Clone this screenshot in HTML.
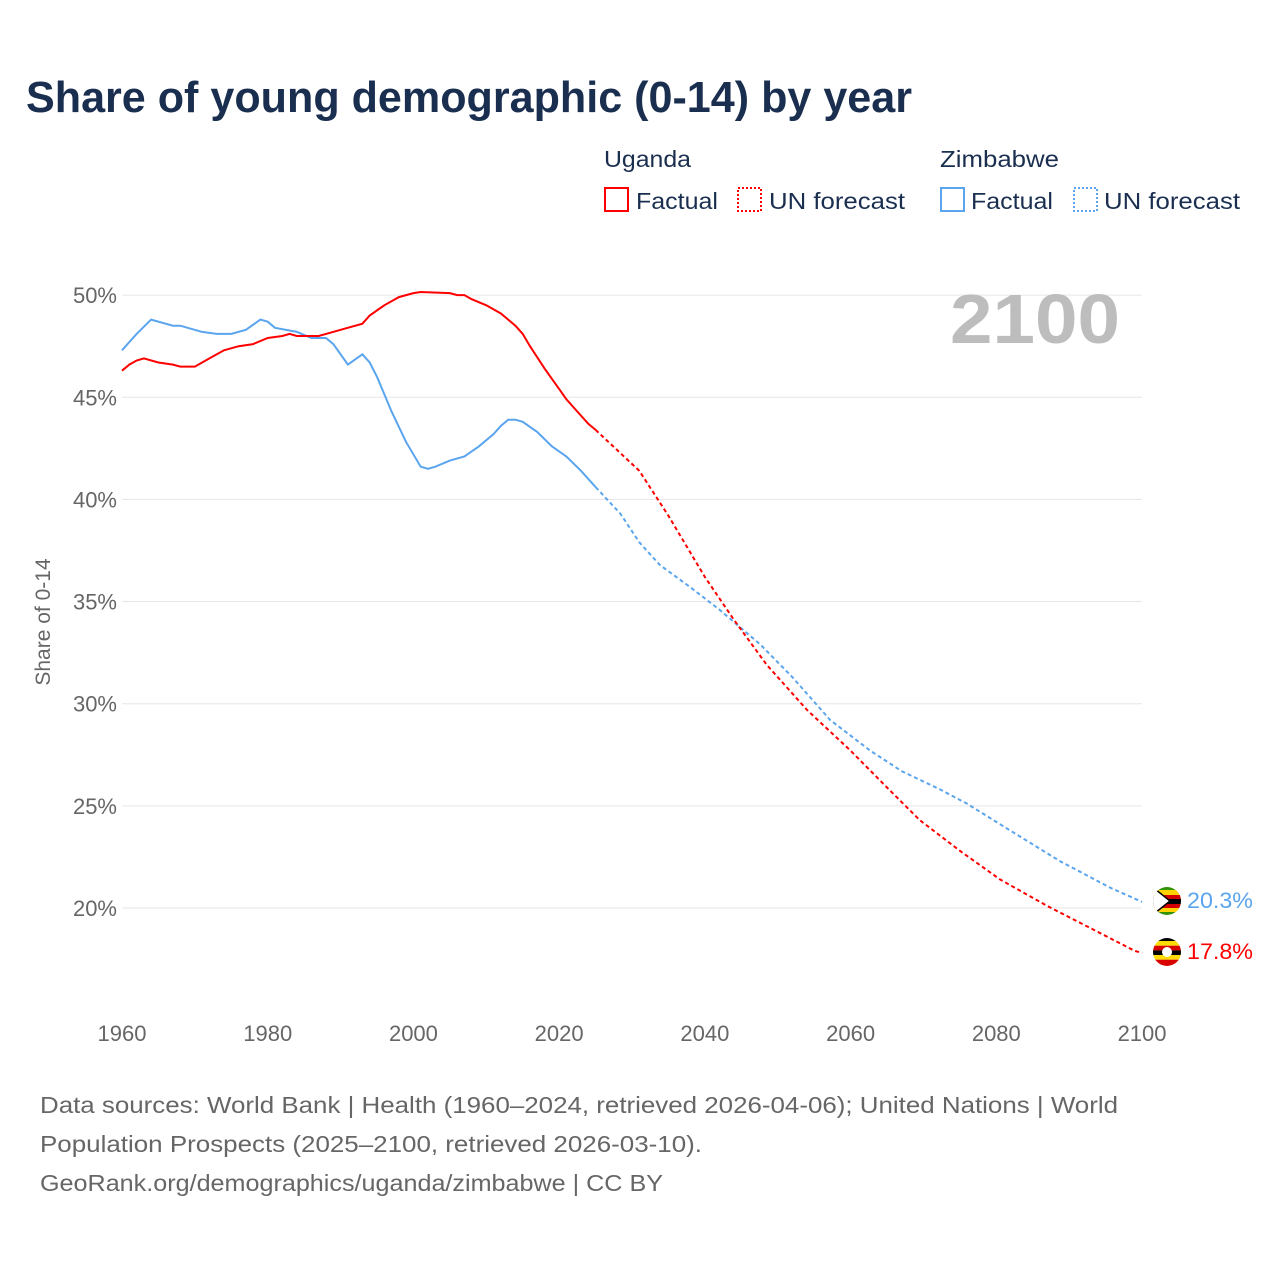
<!DOCTYPE html>
<html><head><meta charset="utf-8"><style>
body{margin:0;background:#fff;}
svg text{font-family:"Liberation Sans",sans-serif;}
</style></head><body>
<svg id="s" width="1280" height="1280" xmlns="http://www.w3.org/2000/svg">
<rect width="1280" height="1280" fill="#fff"/>
<text x="26" y="112" font-size="44" font-weight="bold" fill="#1a2f4f" textLength="886" lengthAdjust="spacingAndGlyphs">Share of young demographic (0-14) by year</text>
<text x="604" y="167" font-size="23" fill="#1a2f4f" textLength="87" lengthAdjust="spacingAndGlyphs">Uganda</text>
<text x="940" y="167" font-size="23" fill="#1a2f4f" textLength="119" lengthAdjust="spacingAndGlyphs">Zimbabwe</text>
<rect x="605" y="188" width="23" height="23" fill="none" stroke="#f00" stroke-width="2"/>
<text x="636" y="209" font-size="23" fill="#1a2f4f" textLength="82" lengthAdjust="spacingAndGlyphs">Factual</text>
<rect x="738" y="188" width="23" height="23" fill="none" stroke="#f00" stroke-width="2" stroke-dasharray="2,2"/>
<text x="769" y="209" font-size="23" fill="#1a2f4f" textLength="136" lengthAdjust="spacingAndGlyphs">UN forecast</text>
<rect x="941" y="188" width="23" height="23" fill="none" stroke="#5aa5ee" stroke-width="2"/>
<text x="971" y="209" font-size="23" fill="#1a2f4f" textLength="82" lengthAdjust="spacingAndGlyphs">Factual</text>
<rect x="1074" y="188" width="23" height="23" fill="none" stroke="#5aa5ee" stroke-width="2" stroke-dasharray="2,2"/>
<text x="1104" y="209" font-size="23" fill="#1a2f4f" textLength="136" lengthAdjust="spacingAndGlyphs">UN forecast</text>
<g id="grid" stroke="#e6e6e6" stroke-width="1"></g>
<g font-size="22" fill="#666" text-anchor="end" id="yl"></g>
<g font-size="22" fill="#666" text-anchor="middle" id="xl"></g>
<text x="1120" y="343" font-size="70" font-weight="bold" fill="#bdbdbd" text-anchor="end" textLength="170" lengthAdjust="spacingAndGlyphs">2100</text>
<text transform="translate(50,622) rotate(-90)" font-size="21" fill="#666" text-anchor="middle">Share of 0-14</text>
<g id="lines" fill="none" stroke-width="2"></g>
<g>
<clipPath id="cz"><circle cx="1167" cy="901" r="14"/></clipPath>
<g clip-path="url(#cz)">
<rect x="1150" y="885" width="34" height="32" fill="#319208"/>
<rect x="1150" y="890" width="34" height="5" fill="#ffd200"/>
<rect x="1150" y="895" width="34" height="4" fill="#d40000"/>
<rect x="1150" y="899" width="34" height="5" fill="#000"/>
<rect x="1150" y="904" width="34" height="4" fill="#d40000"/>
<rect x="1150" y="908" width="34" height="4" fill="#ffd200"/>
<polygon points="1150,885 1170,901 1150,917" fill="#fff" stroke="#000" stroke-width="1.5"/>
</g>
<clipPath id="cu"><circle cx="1167" cy="952" r="14"/></clipPath>
<g clip-path="url(#cu)">
<rect x="1150" y="936" width="34" height="5" fill="#000"/>
<rect x="1150" y="941" width="34" height="4.7" fill="#fcdc04"/>
<rect x="1150" y="945.7" width="34" height="4.7" fill="#d90000"/>
<rect x="1150" y="950.4" width="34" height="4.7" fill="#000"/>
<rect x="1150" y="955" width="34" height="4.7" fill="#fcdc04"/>
<rect x="1150" y="959.7" width="34" height="8" fill="#d90000"/>
<circle cx="1167" cy="952" r="5" fill="#fff"/>
</g>
</g>
<text x="1187" y="908" font-size="22" fill="#5aa5ee" textLength="66" lengthAdjust="spacingAndGlyphs">20.3%</text>
<text x="1187" y="959" font-size="22" fill="#f00" textLength="66" lengthAdjust="spacingAndGlyphs">17.8%</text>
<g font-size="23" fill="#666">
<text x="40" y="1113" textLength="1078" lengthAdjust="spacingAndGlyphs">Data sources: World Bank | Health (1960–2024, retrieved 2026-04-06); United Nations | World</text>
<text x="40" y="1152" textLength="662" lengthAdjust="spacingAndGlyphs">Population Prospects (2025–2100, retrieved 2026-03-10).</text>
<text x="40" y="1191" textLength="623" lengthAdjust="spacingAndGlyphs">GeoRank.org/demographics/uganda/zimbabwe | CC BY</text>
</g>
</svg>
<script>
const NS="http://www.w3.org/2000/svg";
const X=y=>122+(y-1960)*7.286, Y=v=>908-(v-20)*20.43;
const g=document.getElementById('grid'),yl=document.getElementById('yl'),xl=document.getElementById('xl');
for(let v=20;v<=50;v+=5){let l=document.createElementNS(NS,'line');l.setAttribute('x1',122);l.setAttribute('x2',1142);l.setAttribute('y1',Y(v));l.setAttribute('y2',Y(v));g.appendChild(l);
let t=document.createElementNS(NS,'text');t.setAttribute('x',117);t.setAttribute('y',Y(v)+8);t.textContent=v+'%';yl.appendChild(t);}
for(let y=1960;y<=2100;y+=20){let t=document.createElementNS(NS,'text');t.setAttribute('x',X(y));t.setAttribute('y',1041);t.textContent=y;xl.appendChild(t);}
function P(d,c,dash){let p=document.createElementNS(NS,'path');p.setAttribute('d',d.map((q,i)=>(i?'L':'M')+X(q[0]).toFixed(1)+','+Y(q[1]).toFixed(1)).join(''));p.setAttribute('stroke',c);if(dash)p.setAttribute('stroke-dasharray','4,3');document.getElementById('lines').appendChild(p);}
const uf=[[1960,46.3],[1961,46.6],[1962,46.8],[1963,46.9],[1965,46.7],[1967,46.6],[1968,46.5],[1970,46.5],[1972,46.9],[1974,47.3],[1976,47.5],[1978,47.6],[1980,47.9],[1982,48.0],[1983,48.1],[1984,48.0],[1987,48.0],[1988,48.1],[1990,48.3],[1993,48.6],[1994,49.0],[1996,49.5],[1998,49.9],[2000,50.1],[2001,50.15],[2005,50.1],[2006,50.0],[2007,50.0],[2008,49.8],[2010,49.5],[2012,49.1],[2014,48.5],[2015,48.1],[2016,47.5],[2018,46.4],[2020,45.4],[2021,44.9],[2022,44.5],[2024,43.7],[2025,43.4]];
const uu=[[2025,43.4],[2031,41.4],[2035,39.2],[2040,36.2],[2044,34.1],[2048.5,31.9],[2054,29.7],[2060,27.7],[2065,25.9],[2069.5,24.3],[2075,22.8],[2080.5,21.4],[2087,20.1],[2093,19.0],[2099,17.9],[2100,17.8]];
const zf=[[1960,47.3],[1962,48.1],[1964,48.8],[1967,48.5],[1968,48.5],[1971,48.2],[1973,48.1],[1975,48.1],[1977,48.3],[1979,48.8],[1980,48.7],[1981,48.4],[1984,48.2],[1986,47.9],[1988,47.9],[1989,47.6],[1991,46.6],[1993,47.1],[1994,46.7],[1995,46.0],[1997,44.3],[1999,42.8],[2001,41.6],[2002,41.5],[2003,41.6],[2005,41.9],[2007,42.1],[2009,42.6],[2011,43.2],[2012,43.6],[2013,43.9],[2014,43.9],[2015,43.8],[2017,43.3],[2019,42.6],[2021,42.1],[2023,41.4],[2025,40.6]];
const zu=[[2025,40.6],[2028.4,39.3],[2031,37.9],[2033.8,36.8],[2038,35.7],[2042,34.6],[2047.6,32.9],[2052,31.3],[2057.2,29.2],[2062.7,27.7],[2067,26.7],[2072.3,25.8],[2076,25.1],[2080.5,24.1],[2088.7,22.3],[2095.6,21.0],[2100,20.3]];
P(zf,'#5aa5ee');P(zu,'#5aa5ee',1);P(uf,'#f00');P(uu,'#f00',1);
</script>
</body></html>
